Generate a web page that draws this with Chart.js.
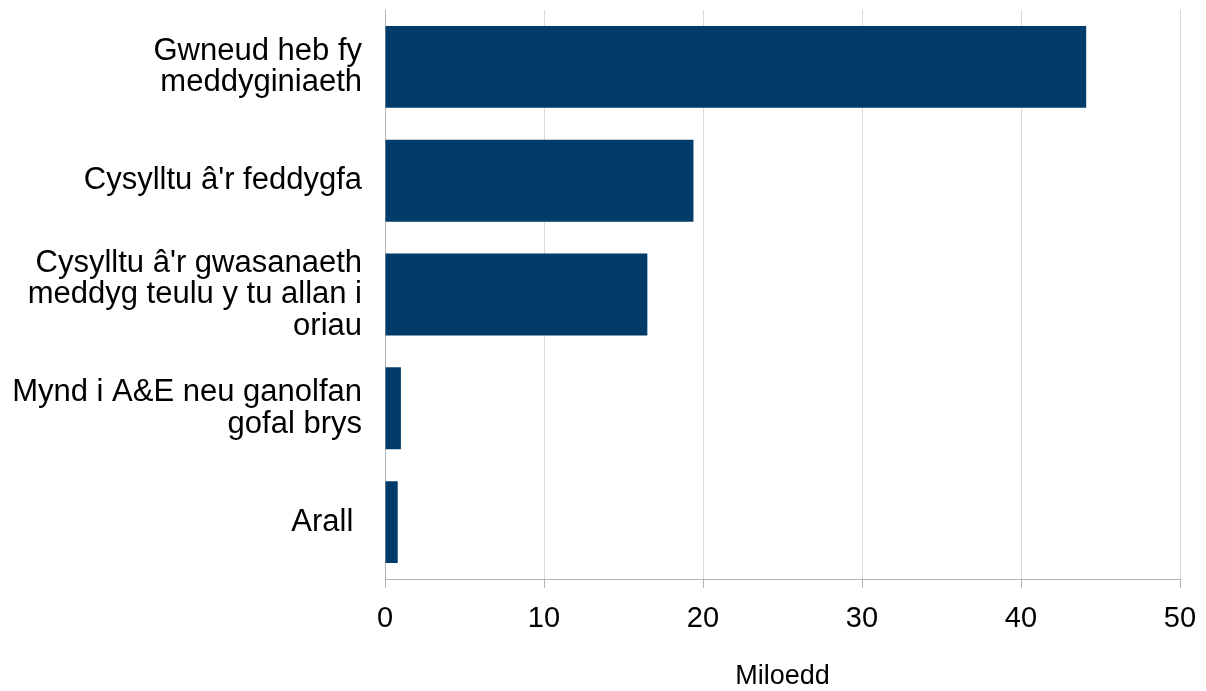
<!DOCTYPE html>
<html>
<head>
<meta charset="utf-8">
<script src="https://cdn.jsdelivr.net/npm/chart.js@4/dist/chart.umd.min.js"></script>
<style>
html,body{margin:0;padding:0;background:#fff;}
#wrap{width:1206px;height:691px;}
</style>
</head>
<body>
<div id="wrap"><canvas id="c" width="1206" height="691"></canvas></div>
<script>
const categories = [
  ["Gwneud heb fy", "meddyginiaeth"],
  ["Cysylltu â'r feddygfa"],
  ["Cysylltu â'r gwasanaeth", "meddyg teulu y tu allan i", "oriau"],
  ["Mynd i A&E neu ganolfan", "gofal brys"],
  ["Arall "]
];
const values = [44.1, 19.4, 16.5, 1.0, 0.8];
const xTicks = [0, 10, 20, 30, 40, 50];
const axisTitle = "Miloedd";

const FONT = "'Liberation Sans', Arial, sans-serif";
new Chart(document.getElementById('c'), {
  type: 'bar',
  data: {
    labels: categories,
    datasets: [{
      data: values,
      backgroundColor: '#003b69',
      borderWidth: 0,
      categoryPercentage: 0.72,
      barPercentage: 1.0
    }]
  },
  options: {
    indexAxis: 'y',
    responsive: false,
    animation: false,
    devicePixelRatio: 1,
    layout: { padding: { top: 10, right: 26, left: 0, bottom: 0 } },
    plugins: { legend: { display: false }, tooltip: { enabled: false } },
    scales: {
      x: {
        min: 0, max: 50,
        afterBuildTicks: (s) => { s.ticks = xTicks.map(v => ({ value: v })); },
        afterFit: (s) => { s.height = 112; s.paddingLeft = 0; s.paddingRight = 0; },
        grid: { color: '#d9d9d9', lineWidth: 1, tickLength: 9, tickColor: '#b3b3b3' },
        border: { color: '#b3b3b3', width: 1 },
        ticks: { color: '#000', font: { family: FONT, size: 29 }, padding: 14 },
        title: { display: true, text: axisTitle, color: '#000', font: { family: FONT, size: 27, lineHeight: 1.0 }, padding: { top: 10, bottom: 1 } }
      },
      y: {
        afterFit: (s) => { s.width = 385; s.paddingTop = 0; s.paddingBottom = 0; },
        grid: { display: false, drawTicks: false },
        border: { color: '#b3b3b3', width: 1 },
        ticks: { color: '#000', font: { family: FONT, size: 31, lineHeight: '31.5px' }, padding: 23, crossAlign: 'near' }
      }
    }
  }
});
</script>
</body>
</html>
